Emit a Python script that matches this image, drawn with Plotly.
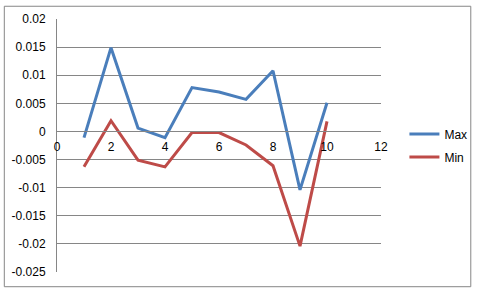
import plotly.graph_objects as go

x_vals = [1, 2, 3, 4, 5, 6, 7, 8, 9, 10]
max_vals = [-0.0011, 0.0149, 0.0006, -0.0011, 0.0078, 0.0070, 0.0057, 0.0108, -0.0104, 0.0051]
min_vals = [-0.0063, 0.0019, -0.0051, -0.0063, -0.0002, -0.0002, -0.0024, -0.0061, -0.0204, 0.0018]
y_ticks = [0.02, 0.015, 0.01, 0.005, 0, -0.005, -0.01, -0.015, -0.02, -0.025]
y_tick_text = ["0.02", "0.015", "0.01", "0.005", "0", "-0.005", "-0.01", "-0.015", "-0.02", "-0.025"]
x_ticks = [0, 2, 4, 6, 8, 10, 12]

W, H = 484, 291
L, R, T, B = 56, 96, 15, 18
pw, ph = W - L - R, H - T - B

fig = go.Figure()
fig.add_trace(go.Scatter(x=x_vals, y=max_vals, mode="lines", name="Max", legendgroup="a",
                         line=dict(color="#4A7EBB", width=3)))
fig.add_trace(go.Scatter(x=x_vals, y=min_vals, mode="lines", name="Min", legendgroup="b",
                         line=dict(color="#BE4B48", width=3)))

ymin, ymax = -0.025, 0.02
zero_pos = (0 - ymin) / (ymax - ymin)

fig.update_layout(
    width=W, height=H,
    margin=dict(l=L, r=R, t=T, b=B),
    paper_bgcolor="white", plot_bgcolor="white",
    font=dict(family="Liberation Sans, Arial, sans-serif", size=12, color="#000000"),
    showlegend=True,
    legend=dict(x=(412 - L) / pw, y=(273 - 144) / ph, xanchor="left", yanchor="middle",
                bgcolor="rgba(0,0,0,0)", font=dict(size=12),
                traceorder="grouped", tracegroupgap=4, itemwidth=30),
    xaxis=dict(range=[0, 12], tickvals=x_ticks, showgrid=False, zeroline=False,
               showline=True, linecolor="#868686", linewidth=1,
               anchor="free", position=zero_pos, ticks="", ticklabelstandoff=4),
    yaxis=dict(range=[ymin, ymax], tickvals=y_ticks, ticktext=y_tick_text,
               showgrid=True, gridcolor="#868686", gridwidth=1, zeroline=False,
               showline=True, linecolor="#868686", linewidth=1, ticks="",
               ticklabelstandoff=8),
)

# chart border
fig.add_shape(type="rect", xref="paper", yref="paper",
              x0=(2 - L) / pw, x1=(480 - L) / pw,
              y0=(T + ph - 288) / ph, y1=(T + ph - 2) / ph,
              line=dict(color="#868686", width=1), fillcolor="rgba(0,0,0,0)", layer="below")

fig.write_html("out.html")
